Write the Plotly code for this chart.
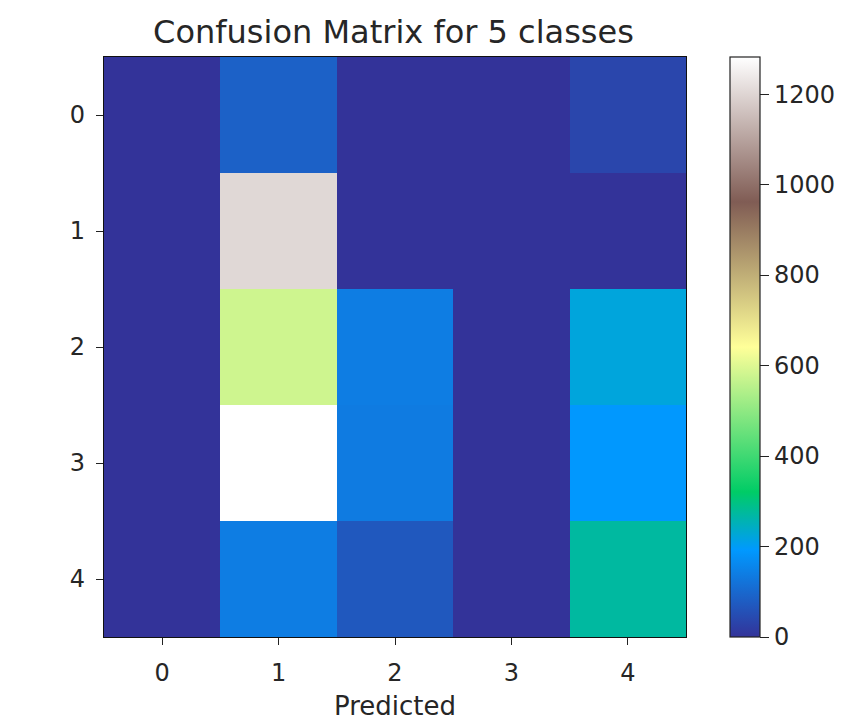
import plotly.graph_objects as go

classes = [0, 1, 2, 3, 4]
tick_labels = ["0", "1", "2", "3", "4"]
# rows = true class, columns = predicted class
row0 = [0, 87, 0, 0, 35]
row1 = [0, 1205, 0, 0, 0]
row2 = [0, 580, 140, 0, 222]
row3 = [0, 1282, 135, 0, 190]
row4 = [0, 140, 70, 0, 272]
z = [row0, row1, row2, row3, row4]

terrain = [
    [0.00, "rgb(51,51,153)"],
    [0.15, "rgb(0,153,255)"],
    [0.25, "rgb(0,204,102)"],
    [0.50, "rgb(255,255,153)"],
    [0.75, "rgb(128,92,84)"],
    [1.00, "rgb(255,255,255)"],
]

font = "DejaVu Sans"
txt = "#262626"
W, H = 865, 722
OFF = 8                # page body adds 8px offset
L, T = 104 - OFF, 57 - OFF
PW, PH = 582, 580
R = W - L - PW
B = H - T - PH

fig = go.Figure(go.Heatmap(
    z=z, x=classes, y=classes, colorscale=terrain, zmin=0, zmax=1282,
    colorbar=dict(
        x=(730 - 10 - (L + OFF)) / PW, xanchor="left", xpad=10,
        y=0.5, yanchor="middle", len=1.0, lenmode="fraction", ypad=0,
        thickness=30, thicknessmode="pixels", outlinewidth=1.2, outlinecolor="#222",
        tickvals=[0, 200, 400, 600, 800, 1000, 1200],
        tickprefix="\u2009",
        ticks="outside", ticklen=9, tickwidth=1, tickcolor="#222",
        tickfont=dict(family=font, size=24, color=txt),
    ),
))

axis_common = dict(
    showgrid=False, zeroline=False, showline=True, linecolor="#111", linewidth=1.2,
    mirror=True, ticks="outside", ticklen=7, tickwidth=1, tickcolor="#222",
    tickfont=dict(family=font, size=24, color=txt),
    tickvals=classes, ticktext=tick_labels,
)
fig.update_layout(
    width=W, height=H,
    margin=dict(l=L, r=R, t=T, b=B),
    paper_bgcolor="white", plot_bgcolor="white",
    title=dict(text="Confusion Matrix for 5 classes", x=(393.5 - OFF) / W, xanchor="center",
               y=1 - (32 - OFF) / H, yanchor="middle",
               font=dict(family=font, size=32, color=txt)),
    xaxis=dict(**axis_common, range=[-0.5, 4.5], ticklabelstandoff=7),
    yaxis=dict(**axis_common, range=[4.5, -0.5], ticklabelstandoff=6),
    annotations=[dict(
        text="Predicted", xref="paper", yref="paper",
        x=0.5, y=((T + PH) - (706 - OFF)) / PH, xanchor="center", yanchor="middle",
        showarrow=False, font=dict(family=font, size=26, color=txt),
    )],
)

fig.write_html("out.html")
